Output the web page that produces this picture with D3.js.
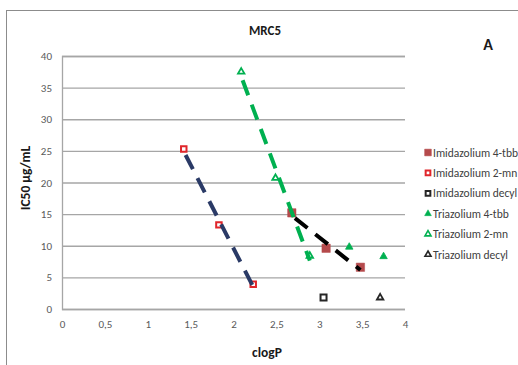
<!DOCTYPE html>
<html>
<head>
<meta charset="utf-8">
<script src="https://cdn.jsdelivr.net/npm/d3@7"></script>
<style>
  html, body { margin: 0; padding: 0; background: #fff; }
  svg { display: block; }
  text { font-family: Carlito, "Liberation Sans Narrow", "Open Sans", sans-serif; }
</style>
</head>
<body>
<svg id="chart" width="518" height="365"></svg>
<script>
// Series data: clogP (x) versus IC50 in µg/mL (y) on MRC5 cells
const imid4tbbX = [2.68, 3.08, 3.48];
const imid4tbbY = [15.2, 9.6, 6.6];
const imid2mnX = [1.42, 1.83, 2.23];
const imid2mnY = [25.3, 13.3, 3.9];
const imidDecylX = [3.05];
const imidDecylY = [1.8];
const tri4tbbX = [3.35, 3.75];
const tri4tbbY = [9.8, 8.3];
const tri2mnX = [2.09, 2.49, 2.89];
const tri2mnY = [37.5, 20.7, 8.4];
const triDecylX = [3.71];
const triDecylY = [1.8];

const xTicks = [0, 0.5, 1, 1.5, 2, 2.5, 3, 3.5, 4];
const yTicks = [0, 5, 10, 15, 20, 25, 30, 35, 40];

const legendNames = [
  "Imidazolium 4-tbb", "Imidazolium 2-mn", "Imidazolium decyl",
  "Triazolium 4-tbb", "Triazolium 2-mn", "Triazolium decyl"
];

const svg = d3.select("#chart");

const x = d3.scaleLinear().domain([0, 4]).range([62, 405]);
const y = d3.scaleLinear().domain([0, 40]).range([309, 56]);

// outer frame (continues past the right and bottom edges)
svg.append("rect")
  .attr("x", 6.5).attr("y", 10.5)
  .attr("width", 600).attr("height", 400)
  .attr("fill", "none").attr("stroke", "#8c8c8c").attr("stroke-width", 1);

// horizontal gridlines
const yAxis = d3.axisLeft(y).tickValues(yTicks)
  .tickSize(-(x(4) - x(0))).tickPadding(10)
  .tickFormat(d => String(d));
const gy = svg.append("g").attr("transform", `translate(${x(0)},0)`).call(yAxis);
gy.select(".domain").attr("stroke", "#a6a6a6").attr("stroke-width", 1.3);
gy.selectAll(".tick line").attr("stroke", "#a6a6a6").attr("stroke-width", 1.3);
gy.selectAll(".tick text").attr("fill", "#595959").attr("font-size", 11);

const fmt = d => String(d).replace(".", ",");
const xAxis = d3.axisBottom(x).tickValues(xTicks).tickSize(0).tickPadding(11).tickFormat(fmt);
const gx = svg.append("g").attr("transform", `translate(0,${y(0)})`).call(xAxis);
gx.select(".domain").remove();
gx.selectAll(".tick text").attr("fill", "#595959").attr("font-size", 11);

// least-squares trendline drawn across a series' x range
function trend(xs, ys) {
  const mx = d3.mean(xs), my = d3.mean(ys);
  const sxy = d3.sum(xs, (v, i) => (v - mx) * (ys[i] - my));
  const sxx = d3.sum(xs, v => (v - mx) * (v - mx));
  const b = sxy / sxx, a = my - b * mx;
  const x0 = d3.min(xs), x1 = d3.max(xs);
  return [[x0, a + b * x0], [x1, a + b * x1]];
}

const zip = (xs, ys) => xs.map((v, i) => [v, ys[i]]);

const sq = d3.symbol().type(d3.symbolSquare);
const tri = d3.symbol().type(d3.symbolTriangle);

function markers(pts, gen, size, fill, stroke, sw) {
  svg.append("g").selectAll("path").data(pts).join("path")
    .attr("transform", d => `translate(${x(d[0])},${y(d[1])})`)
    .attr("d", gen.size(size)())
    .attr("fill", fill).attr("stroke", stroke).attr("stroke-width", sw);
}

markers(zip(imid4tbbX, imid4tbbY), sq, 70, "#b54a4c", "#b54a4c", 0.5);
markers(zip(imid2mnX, imid2mnY), sq, 30, "#fff", "#e0262b", 2);
markers(zip(imidDecylX, imidDecylY), sq, 36, "#fff", "#262626", 2);
markers(zip(tri4tbbX, tri4tbbY), tri, 24, "#00b050", "#00b050", 0.8);
markers(zip(tri2mnX, tri2mnY), tri, 18, "#fff", "#00b050", 1.8);
markers(zip(triDecylX, triDecylY), tri, 18, "#fff", "#262626", 1.8);

// dashed trendlines
const line = d3.line().x(d => x(d[0])).y(d => y(d[1]));
[
  [imid2mnX, imid2mnY, "#2a3a66"],
  [tri2mnX, tri2mnY, "#00b050"],
  [imid4tbbX, imid4tbbY, "#000000"]
].forEach(([xs, ys, c]) => {
  svg.append("path")
    .attr("d", line(trend(xs, ys)))
    .attr("fill", "none").attr("stroke", c)
    .attr("stroke-width", 4).attr("stroke-dasharray", "16,10")
    .attr("stroke-dashoffset", -4);
});

// titles
svg.append("text").attr("x", 265).attr("y", 35).attr("text-anchor", "middle")
  .attr("font-size", 13).attr("font-weight", "bold").attr("fill", "#1a1a1a").text("MRC5");
svg.append("text").attr("x", 488).attr("y", 50).attr("text-anchor", "middle")
  .attr("font-size", 16).attr("font-weight", "bold").attr("fill", "#1a1a1a").text("A");
svg.append("text").attr("x", 267).attr("y", 357).attr("text-anchor", "middle")
  .attr("font-size", 13.5).attr("font-weight", "bold").attr("fill", "#1a1a1a").text("clogP");
svg.append("text").attr("transform", "translate(30,178) rotate(-90)").attr("text-anchor", "middle")
  .attr("font-size", 13.5).attr("font-weight", "bold").attr("fill", "#1a1a1a").text("IC50 µg/mL");

// legend
const legendStyle = [
  [sq, 45, "#b54a4c", "#b54a4c", 0.5],
  [sq, 22, "#fff", "#e0262b", 2],
  [sq, 22, "#fff", "#262626", 2],
  [tri, 20, "#00b050", "#00b050", 0.5],
  [tri, 16, "#fff", "#00b050", 1.6],
  [tri, 16, "#fff", "#262626", 1.6]
];
const lg = svg.append("g");
legendNames.forEach((name, i) => {
  const ly = 152.5 + i * 20.4;
  const [gen, size, fill, stroke, sw] = legendStyle[i];
  lg.append("path").attr("transform", `translate(428,${ly})`)
    .attr("d", gen.size(size)()).attr("fill", fill).attr("stroke", stroke).attr("stroke-width", sw);
  lg.append("text").attr("x", 433).attr("y", ly + 4).attr("font-size", 11.5)
    .attr("fill", "#404040").text(name);
});
</script>
</body>
</html>
